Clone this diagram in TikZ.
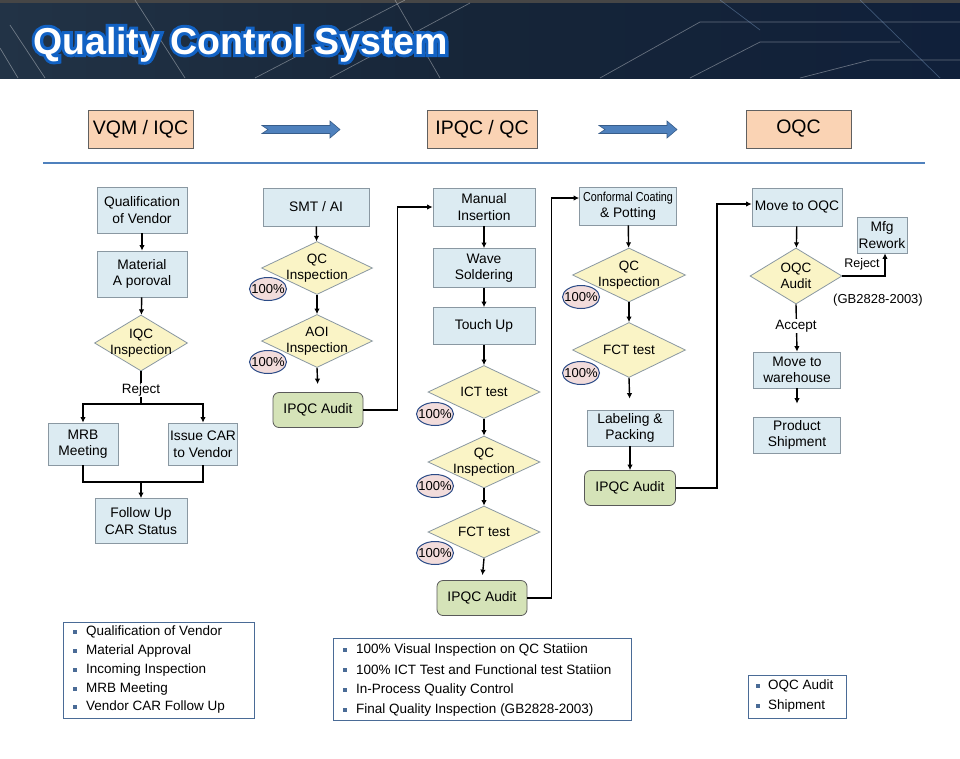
\documentclass[tikz,border=0pt]{standalone}
\usepackage{fontspec}
\setmainfont{Liberation Sans}
\newfontfamily\ttlout{Liberation Sans Bold}[FakeBold=16]
\usetikzlibrary{shapes.geometric,arrows.meta,calc}
\definecolor{boxfill}{HTML}{DCEBF2}
\definecolor{boxdraw}{HTML}{8A98A2}
\definecolor{diafill}{HTML}{FAF4C6}
\definecolor{grnfill}{HTML}{D5E3B8}
\definecolor{hdrfill}{HTML}{FAD3B4}
\definecolor{arrblue}{HTML}{4F81BD}
\definecolor{arrdark}{HTML}{385D8A}
\definecolor{pinkfill}{HTML}{F2DCDB}
\definecolor{ellblue}{HTML}{2A4A86}
\definecolor{listdraw}{HTML}{4A6B96}
\definecolor{titleblue}{HTML}{1262C4}
\definecolor{hdA}{HTML}{223346}
\definecolor{hdM}{HTML}{162538}
\definecolor{hdB}{HTML}{10203A}
\tikzset{
  box/.style={draw=boxdraw, fill=boxfill, line width=0.8pt, inner sep=0pt, align=center, font=\fontsize{13.8}{16.5}\selectfont},
  dia/.style={diamond, draw=boxdraw, fill=diafill, line width=0.8pt, inner sep=0pt},
  dlab/.style={align=center, font=\fontsize{13.5}{16.5}\selectfont, inner sep=0pt},
  audit/.style={box, fill=grnfill, draw=black!65, rounded corners=6pt},
  hbox/.style={draw=gray!75!black, fill=hdrfill, line width=0.8pt, inner sep=0pt, font=\fontsize{19.5}{22}\selectfont},
  pct/.style={ellipse, draw=ellblue, fill=pinkfill, line width=1pt, inner sep=0pt, minimum width=37pt, minimum height=23pt, font=\fontsize{13}{14}\selectfont},
  conn/.style={line width=1.4pt, -{Latex[length=5.5pt,width=5.5pt]}},
  cline/.style={line width=1.4pt},
  lab/.style={font=\fontsize{13.5}{15}\selectfont, inner sep=1pt},
  listbox/.style={draw=listdraw, line width=1.1pt, fill=white},
  bul/.style={fill=listdraw, inner sep=0pt, minimum size=4pt},
  litem/.style={font=\fontsize{13.5}{15}\selectfont, inner sep=0pt, anchor=west},
  ttl/.style={font=\fontsize{37.5}{40}\selectfont\bfseries, inner sep=0pt, anchor=base west},
  harrow/.style={fill=arrblue, draw=arrdark, line width=0.6pt}
}
\begin{document}
\begin{tikzpicture}[x=1pt,y=-1pt]
\useasboundingbox (0,0) rectangle (960,758);
\fill[white] (0,0) rectangle (960,758);
% header band
\shade[left color=hdA, right color=hdB, middle color=hdM] (0,0) rectangle (960,78);
\fill[gray!55!black] (0,0) rectangle (960,3);
\begin{scope}[draw=white, opacity=0.35, line width=0.7pt]
  \draw (10,25) -- (45,78);
  \draw (0,48) -- (18,78);
  \draw (135,0) -- (185,78);
  \draw (395,0) -- (440,78);
  \draw (255,78) -- (405,0);
  \draw (330,78) -- (470,3);
  \draw (600,78) -- (700,22) -- (960,22);
  \draw (690,78) -- (760,42) -- (900,42);
  \draw (800,78) -- (870,60) -- (960,60);
\end{scope}
\begin{scope}[draw=arrblue!70!white, opacity=0.4, line width=0.7pt]
  \draw (860,0) -- (940,78);
  \draw (720,0) -- (760,30);
\end{scope}
% title: blue emboldened copy under white text
\node[ttl, text=titleblue, font=\fontsize{37.5}{40}\selectfont\ttlout] (ttlo) at (33,54) {Quality Control System};
\node[ttl, text=white] (title) at (33,54) {Quality Control System};
% header row
\node[hbox, minimum width=105pt, minimum height=38pt] (h1) at (140.5,129) {VQM / IQC};
\node[hbox, minimum width=110pt, minimum height=38pt] (h2) at (482,129) {IPQC / QC};
\node[hbox, minimum width=105pt, minimum height=38pt] (h3) at (798.5,129) {OQC};
\draw[harrow] (262,125.5) -- (330,125.5) -- (330,121) -- (340,129.5) -- (330,138) -- (330,133.5) -- (262,133.5) -- (268,129.5) -- cycle;
\draw[harrow] (599,125.5) -- (667,125.5) -- (667,121) -- (677,129.5) -- (667,138) -- (667,133.5) -- (599,133.5) -- (605,129.5) -- cycle;
\draw[arrblue, line width=1.5pt] (43,163) -- (925,163);
% column 1
\node[box, minimum width=90pt, minimum height=46pt] (qv) at (142,210) {Qualification\\of Vendor};
\node[box, minimum width=90pt, minimum height=46pt] (ma) at (142,274) {Material\\A poroval};
\node[dia, minimum width=93pt, minimum height=56pt] (iqc) at (141,343) {};
\node[dlab] (iqct) at (iqc) {IQC\\Inspection};
\node[box, minimum width=70pt, minimum height=42pt] (mrb) at (83,444) {MRB\\Meeting};
\node[box, minimum width=69pt, minimum height=42pt] (car) at (203,444) {Issue CAR\\to Vendor};
\node[box, minimum width=92pt, minimum height=45pt] (fu) at (141,521) {Follow Up\\CAR Status};
\draw[conn] (qv) -- (ma);
\draw[conn] (ma) -- (iqc);
\coordinate (j1) at (141,404);
\coordinate (j2) at (141,482);
\draw[cline] (iqc.south) -- (j1);
\node[lab, fill=white] (rej1) at (141,390) {Reject};
\draw[conn] (j1) -| (mrb.north);
\draw[conn] (j1) -| (car.north);
\draw[cline] (mrb.south) |- (j2);
\draw[cline] (car.south) |- (j2);
\draw[conn] (j2) -- (fu.north);
% column 2
\node[box, minimum width=106pt, minimum height=38pt] (smt) at (316,207) {SMT / AI};
\node[dia, minimum width=111pt, minimum height=53pt] (qc1) at (317,268) {};
\node[dlab] (qc1t) at (qc1) {QC\\Inspection};
\node[pct] (p1) at (268,289) {\makebox[0pt]{100\%}};
\node[dia, minimum width=111pt, minimum height=53pt] (aoi) at (317,341) {};
\node[dlab] (aoit) at (aoi) {AOI\\Inspection};
\node[pct] (p2) at (268,362) {\makebox[0pt]{100\%}};
\node[audit, minimum width=90pt, minimum height=35pt] (ip1) at (318,410) {IPQC Audit};
\draw[conn] (smt) -- (qc1);
\draw[conn] (qc1) -- (aoi);
\draw[conn, shorten >=8pt] (aoi.south) -- (ip1.north);
% column 3
\node[box, minimum width=102pt, minimum height=38pt] (mi) at (484,207) {Manual\\Insertion};
\node[box, minimum width=102pt, minimum height=39pt] (ws) at (484,268) {Wave\\Soldering};
\node[box, minimum width=102pt, minimum height=37pt] (tu) at (484,326) {Touch Up};
\node[dia, minimum width=112pt, minimum height=53pt] (ict) at (484,392) {};
\node[dlab] (ictt) at (ict) {ICT test};
\node[pct] (p3) at (435,414) {\makebox[0pt]{100\%}};
\node[dia, minimum width=112pt, minimum height=52pt] (qc2) at (484,462) {};
\node[dlab] (qc2t) at (qc2) {QC\\Inspection};
\node[pct] (p4) at (435,486) {\makebox[0pt]{100\%}};
\node[dia, minimum width=112pt, minimum height=52pt] (fct) at (484,532) {};
\node[dlab] (fctt) at (fct) {FCT test};
\node[pct] (p5) at (435,553) {\makebox[0pt]{100\%}};
\node[audit, minimum width=90pt, minimum height=35pt] (ip2) at (482,598) {IPQC Audit};
\draw[conn] (ip1.east) -- ++(34,0) |- (mi.west);
\draw[conn] (mi) -- (ws);
\draw[conn] (ws) -- (tu);
\draw[conn] (tu) -- (ict);
\draw[conn] (ict) -- (qc2);
\draw[conn] (qc2) -- (fct);
\draw[conn, shorten >=5pt] (fct.south) -- (ip2.north);
% column 4
\node[box, minimum width=97pt, minimum height=38pt] (cc) at (628,206) {\scalebox{0.83}[1]{\fontsize{13}{15}\selectfont Conformal Coating}\\\& Potting};
\node[dia, minimum width=113pt, minimum height=54pt] (qc3) at (629,275) {};
\node[dlab] (qc3t) at (qc3) {QC\\Inspection};
\node[pct] (p6) at (581,297) {\makebox[0pt]{100\%}};
\node[dia, minimum width=113pt, minimum height=55pt] (fct2) at (629,350) {};
\node[dlab] (fct2t) at (fct2) {FCT test};
\node[pct] (p7) at (581,373) {\makebox[0pt]{100\%}};
\node[box, minimum width=86pt, minimum height=36pt] (lp) at (630,428) {Labeling \&\\Packing};
\node[audit, minimum width=91pt, minimum height=35pt] (ip3) at (630,488) {IPQC Audit};
\draw[conn] (ip2.east) -- ++(24,0) |- ([yshift=8pt]cc.west);
\draw[conn] (cc) -- (qc3);
\draw[conn] (qc3) -- (fct2);
\draw[conn, shorten >=11pt] (fct2.south) -- (lp.north);
\draw[conn] (lp) -- (ip3);
% column 5
\node[box, minimum width=90pt, minimum height=38pt] (mo) at (797,207) {Move to OQC};
\node[dia, minimum width=92pt, minimum height=56pt] (oqc) at (796,276) {};
\node[dlab] (oqct) at (oqc) {OQC\\Audit};
\node[box, minimum width=50pt, minimum height=36pt] (mfg) at (882,235) {Mfg\\Rework};
\node[box, minimum width=87pt, minimum height=36pt] (mw) at (797,370) {Move to\\warehouse};
\node[box, minimum width=87pt, minimum height=36pt] (ps) at (797,435) {Product\\Shipment};
\draw[conn] (ip3.east) -- ++(41,0) |- ([yshift=3pt]mo.west);
\draw[conn] (mo) -- (oqc);
\draw[conn] (oqc.east) -| ([xshift=3pt]mfg.south);
\node[lab, font=\fontsize{12.5}{14}\selectfont] (rej2) at (862,264) {Reject};
\node[lab, font=\fontsize{13}{14}\selectfont] (gb) at (878,300) {(GB2828-2003)};
\draw[conn] (oqc.south) -- (mw.north);
\node[lab, fill=white] (acc) at (796,326) {Accept};
\draw[conn, shorten >=13pt] (mw.south) -- (ps.north);
% bottom lists
\node[listbox, minimum width=191pt, minimum height=96pt, anchor=north west] (l1) at (63,622) {};
\foreach \t [count=\i] in {Qualification of Vendor, Material Approval, Incoming Inspection, MRB Meeting, Vendor CAR Follow Up} {
  \node[bul] (b1\i) at (75,613.5+18.75*\i) {};
  \node[litem] (t1\i) at (86,613.5+18.75*\i) {\t};
}
\node[listbox, minimum width=298pt, minimum height=82pt, anchor=north west] (l2) at (333,638) {};
\foreach \t [count=\i] in {100\% Visual Inspection on QC Statiion, 100\% ICT Test and Functional test Statiion, In-Process Quality Control, Final Quality Inspection (GB2828-2003)} {
  \node[bul] (b2\i) at (345,630+20*\i) {};
  \node[litem] (t2\i) at (356,630+20*\i) {\t};
}
\node[listbox, minimum width=98pt, minimum height=43pt, anchor=north west] (l3) at (748,675) {};
\foreach \t [count=\i] in {OQC Audit, Shipment} {
  \node[bul] (b3\i) at (758,666+20*\i) {};
  \node[litem] (t3\i) at (768,666+20*\i) {\t};
}
\end{tikzpicture}
\end{document}
